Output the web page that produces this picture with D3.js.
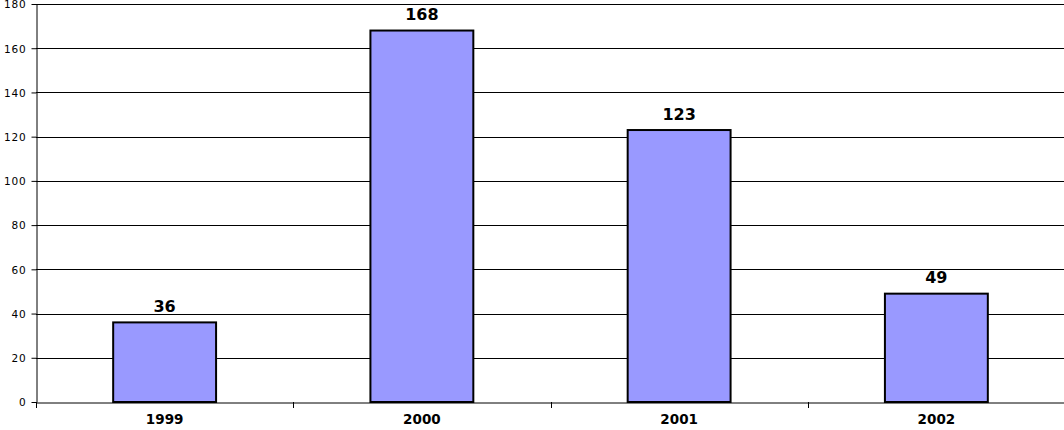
<!DOCTYPE html>
<html><head><meta charset="utf-8">
<script src="https://cdn.jsdelivr.net/npm/d3@7"></script>
<style>html,body{margin:0;padding:0;background:#fff;overflow:hidden}</style>
</head><body>
<svg id="c" width="1064" height="430"></svg>
<script>
const categories = ["1999", "2000", "2001", "2002"];
const values = [36, 168, 123, 49];
const yTicks = [0, 20, 40, 60, 80, 100, 120, 140, 160, 180];

const svg = d3.select("#c");
const pLeft = 36, pRight = 1065, pTop = 4, pBottom = 402;
const x = d3.scaleBand().domain(categories).range([pLeft, pRight]);
const y = d3.scaleLinear().domain([0, 180]).range([pBottom, pTop]);
const font = "'DejaVu Sans', Verdana, sans-serif";

// gridlines
svg.append("g").selectAll("line").data(yTicks.filter(d => d > 0)).join("line")
  .attr("x1", pLeft).attr("x2", 1064)
  .attr("y1", d => Math.round(y(d)) + 0.5).attr("y2", d => Math.round(y(d)) + 0.5)
  .attr("stroke", "#000").attr("stroke-width", 1);

// y axis
const ya = svg.append("g").attr("transform", `translate(${pLeft + 0.5},0)`)
  .call(d3.axisLeft(y).tickValues(yTicks).tickSize(5).tickPadding(5).tickSizeOuter(0));
ya.select(".domain").attr("stroke", "#000");
ya.selectAll(".tick line").attr("stroke", "#000");
ya.selectAll("text").attr("font-family", font).attr("font-size", 10.5)
  .attr("letter-spacing", 0.8).attr("fill", "#000").attr("dy", "0.36em");

// bars
const bw = x.bandwidth() * 0.4;
svg.append("g").selectAll("rect").data(values).join("rect")
  .attr("x", (d, i) => x(categories[i]) + (x.bandwidth() - bw) / 2)
  .attr("width", bw)
  .attr("y", d => y(d))
  .attr("height", d => pBottom - y(d))
  .attr("fill", "#9999FF").attr("stroke", "#000").attr("stroke-width", 2);

// x axis
const xa = svg.append("g").attr("transform", `translate(0,${pBottom + 0.5})`)
  .call(d3.axisBottom(x).tickSize(0).tickPadding(12).tickSizeOuter(0));
xa.select(".domain").attr("stroke", "#000");
xa.selectAll("text").attr("font-family", font).attr("font-size", 13.5).attr("font-weight", "bold").attr("fill", "#000");
// category boundary ticks
svg.append("g").selectAll("line").data(categories).join("line")
  .attr("x1", d => Math.round(x(d)) + 0.5).attr("x2", d => Math.round(x(d)) + 0.5)
  .attr("y1", pBottom).attr("y2", pBottom + 6).attr("stroke", "#000");

// value labels
svg.append("g").selectAll("text").data(values).join("text")
  .attr("x", (d, i) => x(categories[i]) + x.bandwidth() / 2)
  .attr("y", d => y(d) - 10.5)
  .attr("text-anchor", "middle")
  .attr("font-family", font).attr("font-size", 16).attr("font-weight", "bold")
  .text(d => d);
</script>
</body></html>
